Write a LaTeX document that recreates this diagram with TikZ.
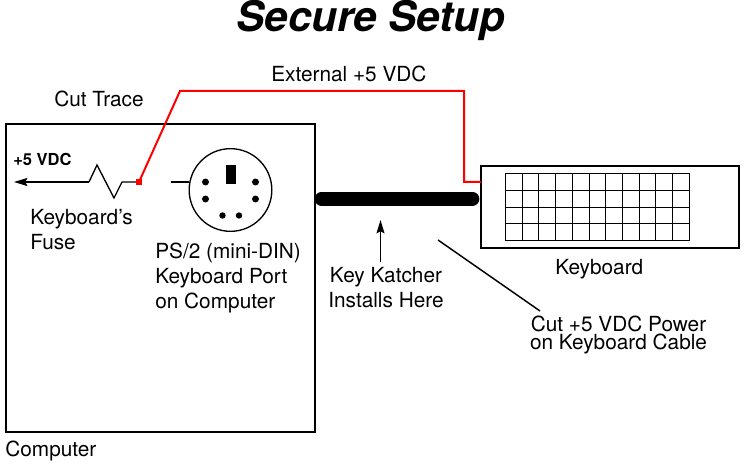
\documentclass[tikz,border=0pt]{standalone}
\usepackage{fontspec}
\setmainfont{TeX Gyre Heros}
\usetikzlibrary{arrows.meta}
\tikzset{
  x=0.75pt, y=-0.75pt,
  lbl/.style={inner sep=0pt, font=\fontsize{15.6pt}{18pt}\selectfont, anchor=base west},
  lblc/.style={inner sep=0pt, font=\fontsize{15.6pt}{13.2pt}\selectfont, align=center},
  lbll/.style={inner sep=0pt, font=\fontsize{15.6pt}{18.6pt}\selectfont, align=left, anchor=north west},
  wire/.style={line width=1pt, black},
  box/.style={draw=black, line width=1.5pt, fill=none},
  redtrace/.style={draw=red, line width=1.5pt, line join=miter},
  tip/.style={-{Stealth[length=10pt,width=6pt,inset=1.5pt]}},
  pin/.style={circle, fill=black, inner sep=0pt, minimum size=5.2pt},
}
\definecolor{red}{RGB}{255,0,0}
\begin{document}
\begin{tikzpicture}
\useasboundingbox (0,0) rectangle (745,466);
\fill[white] (0,0) rectangle (745,466);

% title
\node[inner sep=0pt, anchor=base, font=\fontsize{31.6pt}{36pt}\selectfont\bfseries\itshape] (title) at (371,31.5) {Secure Setup};

% computer and keyboard housings
\node[box, minimum width=232pt, minimum height=231pt, inner sep=0pt] (computer) at (160.5,278) {};
\node[box, minimum width=194pt, minimum height=62pt, inner sep=0pt] (keyboard) at (610,207) {};

% key grid
\draw[line width=1pt] (505,173.5) -- (689.5,173.5) (505,190.5) -- (689.5,190.5) (505,207.5) -- (689.5,207.5) (505,223.5) -- (689.5,223.5) (505,240.5) -- (689.5,240.5);
\foreach \gx in {505.5,522.5,538.5,555.5,572.5,589.5,605.5,622.5,639.5,655.5,672.5,689.5} {
  \draw[line width=1pt] (\gx,173.5) -- (\gx,241);
}

% cable
\coordinate (cableL) at (321.5,198.8);
\coordinate (cableR) at (472.5,198.8);
\draw[line width=10.3pt, line cap=round] (cableL) -- (cableR);

% fuse and lead to the +5 VDC rail
\coordinate (rail) at (14,182);
\coordinate (fuseA) at (89,182);
\coordinate (cut) at (139,182);
\draw[wire, tip] (fuseA) -- (rail);
\draw[wire, line join=miter] (fuseA) -- (97,165) -- (114,198) -- (122,182) -- (cut);

% port
\coordinate (portLead) at (171,182);
\node[draw=black, line width=1pt, circle, minimum size=62pt, inner sep=0pt] (port) at (230.5,190) {};
\draw[wire] (portLead) -- (port.west |- portLead);
\node[fill=black, inner sep=0pt, minimum width=7.5pt, minimum height=14pt] (pinkey) at (231,174.5) {};
\node[pin] (p1) at (205.5,182) {};
\node[pin] (p2) at (255.5,182) {};
\node[pin] (p3) at (205.5,199) {};
\node[pin] (p4) at (255.5,199) {};
\node[pin, minimum size=4.8pt] (p5) at (222.5,215.5) {};
\node[pin, minimum size=4.8pt] (p6) at (239,215.5) {};

% external +5 V feed
\coordinate (bendA) at (180,91);
\coordinate (bendB) at (464,91);
\coordinate (bendC) at (464,182);
\coordinate (kbin) at (481,182);
\draw[redtrace] (cut) -- (bendA) -- (bendB) -- (bendC) -- (kbin);
\node[fill=red, inner sep=0pt, minimum size=4.4pt] (cutmark) at (139,182) {};

% leaders
\coordinate (katchA) at (380.5,262);
\coordinate (katchB) at (380.5,220);
\draw[wire, tip] (katchA) -- (katchB);
\coordinate (leadA) at (438,240);
\coordinate (leadB) at (540,311);
\draw[line width=1.1pt] (leadA) -- (leadB);

% labels
\node[lbl] (ext) at (271,81.5) {External +5 VDC};
\node[lbl] (cuttrace) at (54,106.5) {Cut Trace};
\node[inner sep=0pt, anchor=base west, font=\fontsize{12.4pt}{14pt}\selectfont\bfseries] (vdc) at (13,165.5) {+5 VDC};
\node[lbll] (fuse) at (30,209) {Keyboard’s\\Fuse};
\node[lbll] (ps2) at (155,243) {PS/2 (mini-DIN)\\Keyboard Port\\on Computer};
\node[lbll, align=center, anchor=north] (katch) at (386,267) {Key Katcher\\Installs Here};
\node[lbl] (kbl) at (555,274.5) {Keyboard};
\node[lblc] (power) at (618.5,335) {Cut +5 VDC Power\\on Keyboard Cable};
\node[lbl] (comp) at (5,456.5) {Computer};
\end{tikzpicture}
\end{document}
